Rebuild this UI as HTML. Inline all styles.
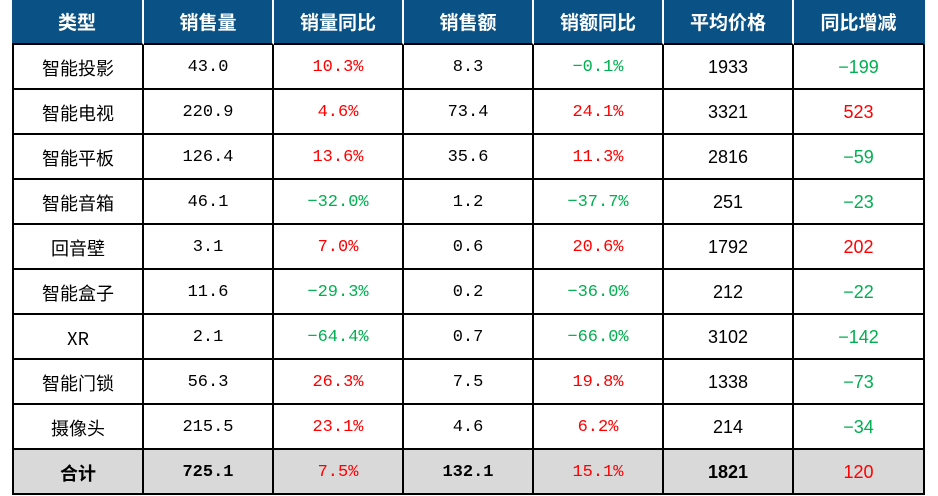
<!DOCTYPE html>
<html><head><meta charset="utf-8"><style>
body{margin:0;background:#fff;width:938px;height:496px;overflow:hidden;position:relative}
.g0{position:absolute;left:12px;top:0;width:911px;display:grid;grid-template-columns:130px 130px 130px 130px 130px 130px 131px;grid-template-rows:repeat(11,45px);font-family:"Liberation Mono","Noto Sans CJK SC",monospace;font-size:17px;border-left:2px solid #000;box-sizing:border-box}
.g0>div{box-sizing:border-box;border-right:2px solid #000;border-bottom:2px solid #000;display:flex;align-items:center;justify-content:center;padding-top:2px;color:#000}
.g0>div.h{background:#0a5285;color:#fff;font-family:"Noto Sans CJK SC",sans-serif;font-weight:bold;font-size:19px;border-right:2px solid #fff;padding-top:0}
.g0>div.h:nth-child(7){border-right:2px solid #0a5285}
.n{font-family:"Noto Sans CJK SC",sans-serif;font-size:18px}
.s{font-family:"Liberation Sans",sans-serif;font-size:18px}
.r{color:#ff0000!important}.gr{color:#00b050!important}
.t{background:#d9d9d9;font-weight:bold}
.t.r{font-weight:normal}
</style></head><body>
<div class="g0" style="border-left-color:#000">
<div class="h" style="margin-left:-2px;width:132px;border-left:none">类型</div><div class="h">销售量</div><div class="h">销量同比</div><div class="h">销售额</div><div class="h">销额同比</div><div class="h">平均价格</div><div class="h">同比增减</div>
<div class="n">智能投影</div><div>43.0</div><div class="r">10.3%</div><div>8.3</div><div class="gr">−0.1%</div><div class="s">1933</div><div class="s gr">−199</div>
<div class="n">智能电视</div><div>220.9</div><div class="r">4.6%</div><div>73.4</div><div class="r">24.1%</div><div class="s">3321</div><div class="s r">523</div>
<div class="n">智能平板</div><div>126.4</div><div class="r">13.6%</div><div>35.6</div><div class="r">11.3%</div><div class="s">2816</div><div class="s gr">−59</div>
<div class="n">智能音箱</div><div>46.1</div><div class="gr">−32.0%</div><div>1.2</div><div class="gr">−37.7%</div><div class="s">251</div><div class="s gr">−23</div>
<div class="n">回音壁</div><div>3.1</div><div class="r">7.0%</div><div>0.6</div><div class="r">20.6%</div><div class="s">1792</div><div class="s r">202</div>
<div class="n">智能盒子</div><div>11.6</div><div class="gr">−29.3%</div><div>0.2</div><div class="gr">−36.0%</div><div class="s">212</div><div class="s gr">−22</div>
<div class="n">XR</div><div>2.1</div><div class="gr">−64.4%</div><div>0.7</div><div class="gr">−66.0%</div><div class="s">3102</div><div class="s gr">−142</div>
<div class="n">智能门锁</div><div>56.3</div><div class="r">26.3%</div><div>7.5</div><div class="r">19.8%</div><div class="s">1338</div><div class="s gr">−73</div>
<div class="n">摄像头</div><div>215.5</div><div class="r">23.1%</div><div>4.6</div><div class="r">6.2%</div><div class="s">214</div><div class="s gr">−34</div>
<div class="n t">合计</div><div class="t">725.1</div><div class="t r">7.5%</div><div class="t">132.1</div><div class="t r">15.1%</div><div class="s t">1821</div><div class="s t r">120</div>
</div>
</body></html>
